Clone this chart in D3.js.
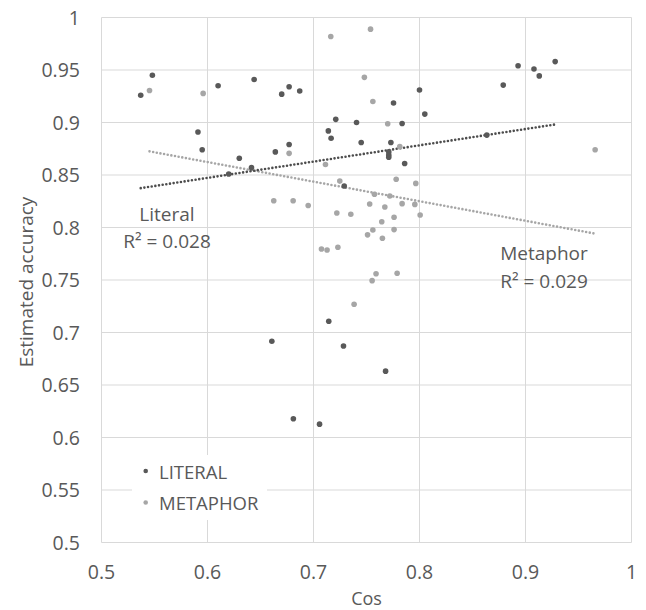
<!DOCTYPE html>
<html>
<head>
<meta charset="utf-8">
<script src="https://cdn.jsdelivr.net/npm/d3@7"></script>
<style>
  body { margin: 0; background: #fff; }
  svg text { font-family: "Open Sans", sans-serif; fill: #595959; }
</style>
</head>
<body>
<svg class="chart" width="646" height="610"></svg>
<script>
// values
var literalCos = [0.548, 0.537, 0.610, 0.644, 0.670, 0.677, 0.687, 0.591, 0.595, 0.630,
                  0.620, 0.6415, 0.664, 0.677, 0.721, 0.714, 0.7166, 0.7406, 0.745, 0.729,
                  0.800, 0.7755, 0.7836, 0.805, 0.773, 0.771, 0.771, 0.771, 0.786, 0.8635,
                  0.879, 0.893, 0.908, 0.913, 0.928, 0.7144, 0.6607, 0.7283, 0.768, 0.681,
                  0.7057];
var literalAcc = [0.945, 0.926, 0.935, 0.941, 0.927, 0.934, 0.930, 0.891, 0.874, 0.866,
                  0.851, 0.857, 0.872, 0.879, 0.903, 0.892, 0.885, 0.900, 0.881, 0.8395,
                  0.931, 0.9185, 0.899, 0.908, 0.881, 0.872, 0.869, 0.867, 0.861, 0.888,
                  0.9356, 0.954, 0.951, 0.9444, 0.958, 0.7107, 0.6917, 0.6872, 0.6632, 0.6178,
                  0.6127];
var metaphorCos = [0.5453, 0.5959, 0.7163, 0.748, 0.677, 0.7113, 0.7248, 0.6625, 0.6808, 0.695,
                   0.7538, 0.756, 0.770, 0.7814, 0.778, 0.7965, 0.7575, 0.772, 0.753, 0.7673,
                   0.7836, 0.7956, 0.9657, 0.722, 0.7352, 0.751, 0.7075, 0.7128, 0.723, 0.7383,
                   0.8006, 0.7644, 0.776, 0.776, 0.756, 0.765, 0.759, 0.7553, 0.7789];
var metaphorAcc = [0.9305, 0.9277, 0.9819, 0.943, 0.8706, 0.860, 0.8442, 0.8255, 0.8255, 0.821,
                   0.9889, 0.920, 0.8988, 0.877, 0.846, 0.842, 0.8316, 0.830, 0.8224, 0.8195,
                   0.8227, 0.822, 0.874, 0.8138, 0.8126, 0.793, 0.7795, 0.7786, 0.7812, 0.7269,
                   0.8119, 0.8055, 0.8097, 0.798, 0.7976, 0.7897, 0.756, 0.7494, 0.7564];

var xTicks = [0.5, 0.6, 0.7, 0.8, 0.9, 1];
var yTicks = [0.5, 0.55, 0.6, 0.65, 0.7, 0.75, 0.8, 0.85, 0.9, 0.95, 1];

var seriesNames = ["LITERAL", "METAPHOR"];
var trendLabels = [["Literal", "R² = 0.028"], ["Metaphor", "R² = 0.029"]];

var svg = d3.select("svg.chart");
var plotL = 101.5, plotR = 631.5, plotT = 17.5, plotB = 542.5;

var x = d3.scaleLinear().domain([0.5, 1]).range([plotL, plotR]);
var y = d3.scaleLinear().domain([0.5, 1]).range([plotB, plotT]);

var dark = "#595959", light = "#a6a6a6";

// gridlines
svg.append("g").selectAll("line").data(xTicks).enter().append("line")
   .attr("x1", function(d) { return x(d); }).attr("x2", function(d) { return x(d); })
   .attr("y1", plotT).attr("y2", plotB)
   .attr("stroke", "#d9d9d9").attr("stroke-width", 1);
svg.append("g").selectAll("line").data(yTicks).enter().append("line")
   .attr("y1", function(d) { return y(d); }).attr("y2", function(d) { return y(d); })
   .attr("x1", plotL).attr("x2", plotR)
   .attr("stroke", "#d9d9d9").attr("stroke-width", 1);

// tick labels
svg.append("g").selectAll("text").data(xTicks).enter().append("text")
   .attr("x", function(d) { return x(d); })
   .attr("y", 579)
   .attr("text-anchor", "middle")
   .style("font-size", "19.5px")
   .text(function(d) { return d3.format("")(d); });
svg.append("g").selectAll("text").data(yTicks).enter().append("text")
   .attr("x", 80)
   .attr("y", function(d) { return y(d) + 7; })
   .attr("text-anchor", "end")
   .style("font-size", "19.5px")
   .text(function(d) { return d3.format("")(d); });

// axis titles
svg.append("text")
   .attr("x", (plotL + plotR) / 2).attr("y", 605)
   .attr("text-anchor", "middle")
   .style("font-size", "18px")
   .text("Cos");
svg.append("text")
   .attr("transform", "translate(33," + ((plotT + plotB) / 2 + 2) + ") rotate(-90)")
   .attr("text-anchor", "middle")
   .style("font-size", "19px")
   .text("Estimated accuracy");

// least squares trendline over the data range
function trend(xs, ys) {
  var mx = d3.mean(xs), my = d3.mean(ys);
  var sxy = d3.sum(xs, function(v, i) { return (v - mx) * (ys[i] - my); });
  var sxx = d3.sum(xs, function(v) { return (v - mx) * (v - mx); });
  var b = sxy / sxx, a = my - b * mx;
  var ext = d3.extent(xs);
  return [[ext[0], a + b * ext[0]], [ext[1], a + b * ext[1]]];
}

var line = d3.line()
  .x(function(d) { return x(d[0]); })
  .y(function(d) { return y(d[1]); });

svg.append("path")
   .attr("d", line(trend(metaphorCos, metaphorAcc)))
   .attr("fill", "none").attr("stroke", light)
   .attr("stroke-width", 2.6).attr("stroke-linecap", "round")
   .attr("stroke-dasharray", "0 3.7");
svg.append("path")
   .attr("d", line(trend(literalCos, literalAcc)))
   .attr("fill", "none").attr("stroke", "#4d4d4d")
   .attr("stroke-width", 2.6).attr("stroke-linecap", "round")
   .attr("stroke-dasharray", "0 3.7");

// points
svg.append("g").selectAll("circle")
   .data(metaphorCos).enter().append("circle")
   .attr("cx", function(d) { return x(d); })
   .attr("cy", function(d, i) { return y(metaphorAcc[i]); })
   .attr("r", 2.8)
   .attr("fill", light);
svg.append("g").selectAll("circle")
   .data(literalCos).enter().append("circle")
   .attr("cx", function(d) { return x(d); })
   .attr("cy", function(d, i) { return y(literalAcc[i]); })
   .attr("r", 2.8)
   .attr("fill", dark);

// trendline labels
var ann = [[167, 220.5], [544, 260]];
trendLabels.forEach(function(lines, k) {
  var t = svg.append("text")
     .attr("x", ann[k][0]).attr("y", ann[k][1])
     .attr("text-anchor", "middle")
     .style("font-size", "19px");
  lines.forEach(function(s, j) {
    t.append("tspan").attr("x", ann[k][0]).attr("dy", j ? 27.5 : 0).text(s);
  });
});

// legend
var legend = svg.append("g");
legend.append("rect")
   .attr("x", 132).attr("y", 455).attr("width", 135).attr("height", 65)
   .attr("fill", "#fff");
seriesNames.forEach(function(name, i) {
  legend.append("circle")
     .attr("cx", 145.7).attr("cy", 471 + i * 31.5)
     .attr("r", 2.3)
     .attr("fill", i ? light : dark);
  legend.append("text")
     .attr("x", 159).attr("y", 478.5 + i * 31.5)
     .style("font-size", "18.5px")
     .text(name);
});
</script>
</body>
</html>
